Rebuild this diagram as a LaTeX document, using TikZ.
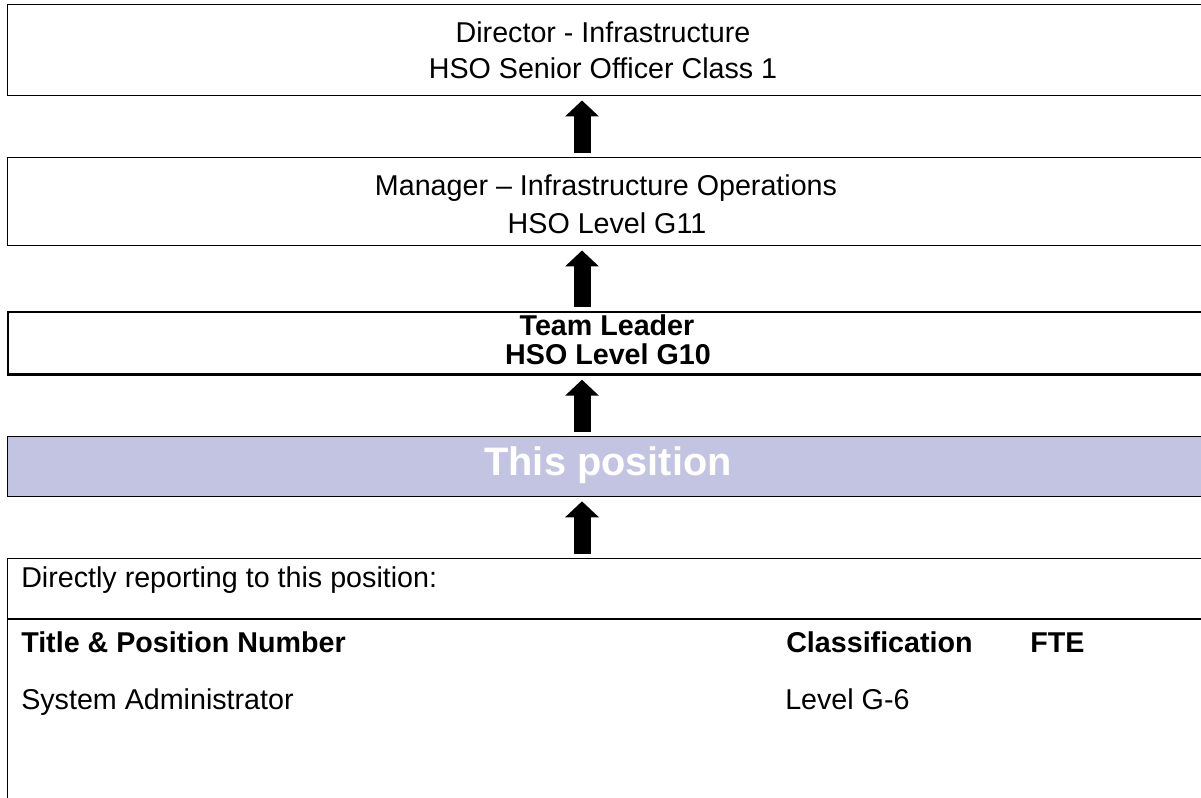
\documentclass[tikz,border=0pt]{standalone}
\usepackage{fontspec}
\setmainfont{Liberation Sans}
\usetikzlibrary{arrows.meta}
\definecolor{poslilac}{RGB}{194,196,226}
\tikzset{
  orgbox/.style={draw, line width=1.1pt, anchor=north west, minimum width=1100pt, inner sep=0pt},
  uparrow/.style={line width=12.75pt, -{Triangle[width=24.75pt,length=12pt]}, shorten >=3pt, shorten <=3pt},
  boxtext/.style={anchor=base, inner sep=0pt, font=\fontsize{21.5}{26}\selectfont},
  celltext/.style={anchor=base west, inner sep=0pt, font=\fontsize{21.5}{26}\selectfont}
}
\begin{document}
\begin{tikzpicture}[x=0.75pt,y=-0.75pt]
%\draw [help lines,black!20!white] (0,0) grid (1201,797);
\useasboundingbox (0,0) rectangle (1201,797);
\clip (0,0) rectangle (1201,797);

\node[orgbox, minimum height=68.25pt] (dir) at (7,4) {};
\node[orgbox, minimum height=66pt] (mgr) at (7,157) {};
\node[orgbox, line width=2pt, minimum height=46.9pt] (lead) at (6.5,310.5) {};
\node[orgbox, fill=poslilac, line width=1pt, minimum height=45pt] (pos) at (7,436) {};
\node[orgbox, minimum height=300pt] (reports) at (7,558) {};
\draw[line width=1.1pt] (7,619) -- (1300,619);

\node[boxtext] (dirname) at (603,42) {Director - Infrastructure};
\node[boxtext] (dirgrade) at (603,78) {HSO Senior Officer Class 1};
\node[boxtext] (mgrname) at (606,195) {Manager – Infrastructure Operations};
\node[boxtext] (mgrgrade) at (607,233) {HSO Level G11};
\node[boxtext, font=\fontsize{21.5}{26}\selectfont\bfseries] (leadname) at (607,335) {Team Leader};
\node[boxtext, font=\fontsize{21.5}{26}\selectfont\bfseries] (leadgrade) at (608,364) {HSO Level G10};
\node[boxtext, text=white, font=\fontsize{29.8}{34}\selectfont\bfseries] (posname) at (608,475) {This position};

\node[celltext] (directly) at (21,587) {Directly reporting to this position:};
\node[celltext, font=\fontsize{21.5}{26}\selectfont\bfseries] (coltitle) at (21,652) {Title \& Position Number};
\node[celltext, font=\fontsize{21.5}{26}\selectfont\bfseries] (colclass) at (786,652) {Classification};
\node[celltext, font=\fontsize{21.5}{26}\selectfont\bfseries] (colfte) at (1030,652) {FTE};
\node[celltext] (sysadmin) at (21,709) {System Administrator};
\node[celltext] (sysgrade) at (785,709) {Level G-6};

\coordinate (ax) at (582,0);
\draw[uparrow] (mgr.north -| ax) -- (dir.south -| ax);
\draw[uparrow] (lead.north -| ax) -- (mgr.south -| ax);
\draw[uparrow] (pos.north -| ax) -- (lead.south -| ax);
\draw[uparrow] (reports.north -| ax) -- (pos.south -| ax);

\end{tikzpicture}
\end{document}
